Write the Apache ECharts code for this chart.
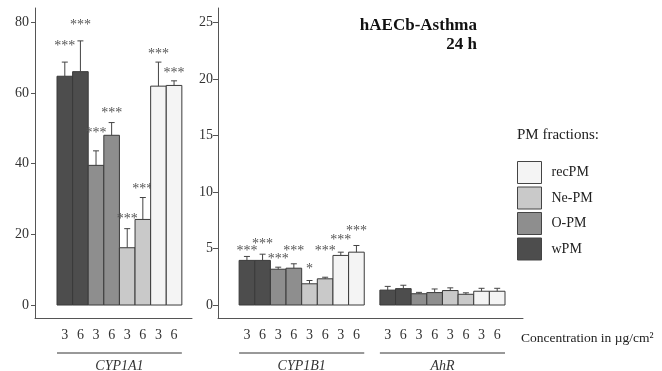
<!DOCTYPE html>
<html><head><meta charset="utf-8">
<script src="https://cdn.jsdelivr.net/npm/echarts@6/dist/echarts.min.js"></script>
<style>html,body{margin:0;padding:0;background:#fff}#c{width:662px;height:371px}</style>
</head><body><div id="c"></div>
<script>
// ---------- data ----------
const fractions = ['wPM', 'O-PM', 'Ne-PM', 'recPM'];
const legendOrder = ['recPM', 'Ne-PM', 'O-PM', 'wPM'];
const barConc = ['3', '6', '3', '6', '3', '6', '3', '6'];
const barFraction = ['wPM', 'wPM', 'O-PM', 'O-PM', 'Ne-PM', 'Ne-PM', 'recPM', 'recPM'];
const genes = ['CYP1A1', 'CYP1B1', 'AhR'];
const leftTicks = [0, 20, 40, 60, 80];
const middleTicks = [0, 5, 10, 15, 20, 25];

const cyp1a1Mean = [64.7, 66.0, 39.5, 48.0, 16.2, 24.2, 61.9, 62.1];
const cyp1a1Err  = [4.0, 8.7, 4.1, 3.6, 5.4, 6.2, 6.8, 1.3];
const cyp1a1Sig  = ['***', '***', '***', '***', '***', '***', '***', '***'];
const cyp1a1SigAt = [74.0, 80.0, 49.5, 55.1, 25.0, 33.7, 71.8, 66.4];

const cyp1b1Mean = [3.95, 3.95, 3.17, 3.26, 1.88, 2.32, 4.39, 4.68];
const cyp1b1Err  = [0.35, 0.55, 0.18, 0.39, 0.29, 0.14, 0.29, 0.59];
const cyp1b1Sig  = ['***', '***', '***', '***', '*', '***', '***', '***'];
const cyp1b1SigAt = [5.0, 5.66, 4.33, 4.98, 3.44, 4.98, 5.96, 6.8];

const ahrMean = [1.32, 1.45, 1.0, 1.1, 1.28, 0.95, 1.22, 1.22];
const ahrErr  = [0.33, 0.30, 0.12, 0.32, 0.24, 0.13, 0.26, 0.26];
const ahrSig  = ['', '', '', '', '', '', '', ''];
const ahrSigAt = [0, 0, 0, 0, 0, 0, 0, 0];

// ---------- styling ----------
const fractionColors = { 'wPM': '#4d4d4d', 'O-PM': '#8e8e8e', 'Ne-PM': '#c9c9c9', 'recPM': '#f4f4f4' };
const SERIF = '"Liberation Serif", "Times New Roman", serif';
const geneSets = [
  { mean: cyp1a1Mean, err: cyp1a1Err, sig: cyp1a1Sig, sigAt: cyp1a1SigAt },
  { mean: cyp1b1Mean, err: cyp1b1Err, sig: cyp1b1Sig, sigAt: cyp1b1SigAt },
  { mean: ahrMean, err: ahrErr, sig: ahrSig, sigAt: ahrSigAt }
];
// panel layout: which genes go to which grid and at what slot offset
const panels = [
  { grid: 0, genes: [{ g: 0, offset: 0 }] },
  { grid: 1, genes: [{ g: 1, offset: 0 }, { g: 2, offset: 9 }] }
];

function barRender(params, api) {
  const x = api.value(0), v = api.value(1), e = api.value(2), sAt = api.value(3);
  const g = api.value(4), b = api.value(5);
  const color = api.visual('color');
  const bl = api.coord([x - 0.5, 0]);
  const tr = api.coord([x + 0.5, v]);
  const top = api.coord([x, v + e]);
  const cx = (bl[0] + tr[0]) / 2;
  const children = [
    { type: 'rect', shape: { x: bl[0], y: tr[1], width: tr[0] - bl[0], height: bl[1] - tr[1] },
      style: { fill: color, stroke: '#3a3a3a', lineWidth: 1 } },
    { type: 'line', shape: { x1: cx, y1: tr[1], x2: cx, y2: top[1] }, style: { stroke: '#444', lineWidth: 1 } },
    { type: 'line', shape: { x1: cx - 3, y1: top[1], x2: cx + 3, y2: top[1] }, style: { stroke: '#444', lineWidth: 1 } }
  ];
  const sig = geneSets[g].sig[b];
  if (sig) {
    const sp = api.coord([x, sAt]);
    children.push({ type: 'text', x: cx, y: sp[1] + 3,
      style: { text: sig, fill: '#555', font: '14px ' + SERIF, align: 'center', verticalAlign: 'middle' } });
  }
  return { type: 'group', children };
}

function geneLabelRender(params, api) {
  const a = api.coord([api.value(0) - 0.5, 0]);
  const b = api.coord([api.value(1) + 0.5, 0]);
  const cs = params.coordSys;
  const base = cs.y + cs.height;
  const name = genes[api.value(2)];
  return { type: 'group', children: [
    { type: 'line', shape: { x1: a[0], y1: base + 35, x2: b[0], y2: base + 35 }, style: { stroke: '#333', lineWidth: 1 } },
    { type: 'text', x: (a[0] + b[0]) / 2, y: base + 48,
      style: { text: name, fill: '#333', font: 'italic 14px ' + SERIF, align: 'center', verticalAlign: 'middle' } }
  ] };
}

const series = [];
panels.forEach(p => {
  fractions.forEach(f => {
    const data = [];
    p.genes.forEach(gg => {
      const s = geneSets[gg.g];
      barFraction.forEach((fr, i) => {
        if (fr === f) data.push([gg.offset + i, s.mean[i], s.err[i], s.sigAt[i], gg.g, i]);
      });
    });
    series.push({ type: 'custom', name: f, xAxisIndex: p.grid, yAxisIndex: p.grid,
      itemStyle: { color: fractionColors[f] }, renderItem: barRender, data, clip: false, z: 2 });
  });
  series.push({ type: 'custom', name: 'genes' + p.grid, xAxisIndex: p.grid, yAxisIndex: p.grid,
    renderItem: geneLabelRender, clip: false, silent: true,
    data: p.genes.map(gg => [gg.offset, gg.offset + 7, gg.g]) });
});

const xLabelStyle = { fontFamily: SERIF, fontSize: 14, color: '#333', margin: 10 };
const yLabelStyle = { fontFamily: SERIF, fontSize: 14, color: '#333' };
const axisLineStyle = { show: true, onZero: false, lineStyle: { color: '#555', width: 1 } };

const option = {
  animation: false,
  backgroundColor: '#fff',
  grid: [
    { left: 35, top: 8, width: 157, height: 310 },
    { left: 218, top: 8, width: 305, height: 310 }
  ],
  xAxis: [
    { gridIndex: 0, type: 'value', min: -1.91, max: 8.15, axisLine: axisLineStyle,
      axisTick: { show: false }, splitLine: { show: false },
      axisLabel: Object.assign({ customValues: [0, 1, 2, 3, 4, 5, 6, 7],
        formatter: v => barConc[Math.round(v) % 9] }, xLabelStyle) },
    { gridIndex: 1, type: 'value', min: -1.85, max: 17.65, axisLine: axisLineStyle,
      axisTick: { show: false }, splitLine: { show: false },
      axisLabel: Object.assign({ customValues: [0, 1, 2, 3, 4, 5, 6, 7, 9, 10, 11, 12, 13, 14, 15, 16],
        formatter: v => barConc[Math.round(v) % 9] }, xLabelStyle) }
  ],
  yAxis: [
    { gridIndex: 0, type: 'value', min: -3.67, max: 84, axisLine: axisLineStyle,
      axisTick: { show: true, length: 4, customValues: leftTicks, lineStyle: { color: '#555' } },
      axisLabel: Object.assign({ customValues: leftTicks, margin: 6 }, yLabelStyle),
      splitLine: { show: false } },
    { gridIndex: 1, type: 'value', min: -1.15, max: 26.3, axisLine: axisLineStyle,
      axisTick: { show: true, length: 5, customValues: middleTicks, lineStyle: { color: '#555' } },
      axisLabel: Object.assign({ customValues: middleTicks, margin: 5 }, yLabelStyle),
      splitLine: { show: false } }
  ],
  legend: {
    orient: 'vertical', left: 517, top: 161, padding: 0,
    itemWidth: 24, itemHeight: 22, itemGap: 2.5, icon: 'rect', selectedMode: false,
    textStyle: { fontFamily: SERIF, fontSize: 14, color: '#222', padding: [0, 0, 0, 5] },
    data: legendOrder.map(n => ({ name: n, itemStyle: { color: fractionColors[n], borderColor: '#444', borderWidth: 1 } }))
  },
  graphic: [
    { type: 'text', x: 477, y: 26, style: { text: 'hAECb-Asthma', align: 'right', verticalAlign: 'middle',
      font: 'bold 17px ' + SERIF, fill: '#111' } },
    { type: 'text', x: 477, y: 45, style: { text: '24 h', align: 'right', verticalAlign: 'middle',
      font: 'bold 17px ' + SERIF, fill: '#111' } },
    { type: 'text', x: 558, y: 135, style: { text: 'PM fractions:', align: 'center', verticalAlign: 'middle',
      font: '15px ' + SERIF, fill: '#222' } },
    { type: 'text', x: 521, y: 338, style: { text: 'Concentration in µg/cm²', align: 'left', verticalAlign: 'middle',
      font: '13.5px ' + SERIF, fill: '#222' } }
  ],
  series
};

const chart = echarts.init(document.getElementById('c'), null, { renderer: 'canvas' });
chart.setOption(option);
</script>
</body></html>
